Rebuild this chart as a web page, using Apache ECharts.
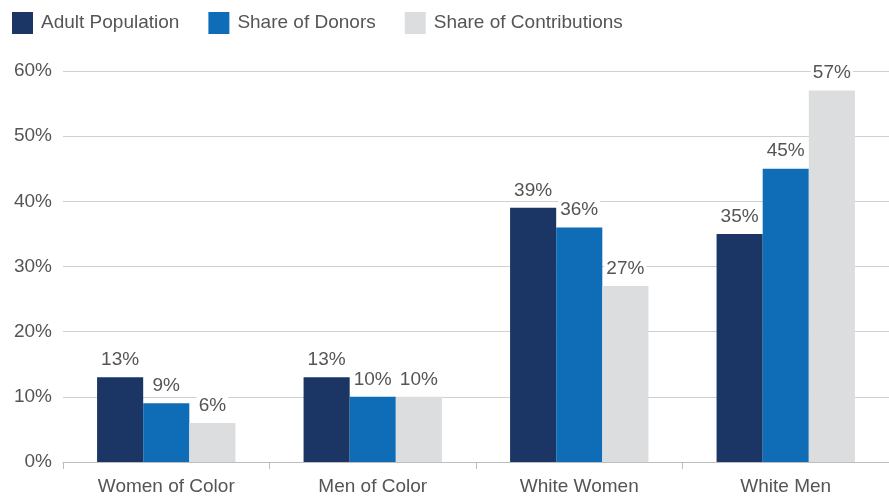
<!DOCTYPE html>
<html>
<head>
<meta charset="utf-8">
<script src="https://cdn.jsdelivr.net/npm/echarts@6/dist/echarts.min.js"></script>
<style>
  html, body { margin: 0; padding: 0; background: #fff; }
  #chart { width: 889px; height: 496px; }
</style>
</head>
<body>
<div id="chart"></div>
<script>
// Groups along the x axis
const categories = ['Women of Color', 'Men of Color', 'White Women', 'White Men'];

// Percent values per series
const adultPopulation = [13, 13, 39, 35];
const shareOfDonors = [9, 10, 36, 45];
const shareOfContributions = [6, 10, 27, 57];

const seriesNames = ['Adult Population', 'Share of Donors', 'Share of Contributions'];
const seriesColors = ['#1b3664', '#0f6db8', '#dcdddf'];
const seriesData = [adultPopulation, shareOfDonors, shareOfContributions];

const FONT = '"Liberation Sans", Arial, Helvetica, sans-serif';
const TEXT = '#555';
const SIZE = 19;

const chart = echarts.init(document.getElementById('chart'), null, { renderer: 'canvas' });

chart.setOption({
  animation: false,
  textStyle: { fontFamily: FONT },
  legend: {
    left: 12,
    top: 12,
    padding: 0,
    itemWidth: 21,
    itemHeight: 22,
    itemGap: 29,
    icon: 'rect',
    textStyle: { fontFamily: FONT, fontSize: SIZE, color: TEXT, padding: [0, 0, 0, 3] },
    data: seriesNames
  },
  grid: { left: 63, right: 0, top: 71, bottom: 34, containLabel: false },
  xAxis: {
    type: 'category',
    data: categories,
    axisLine: { lineStyle: { color: '#bdbdbd', width: 1 } },
    axisTick: { show: true, length: 7, lineStyle: { color: '#bdbdbd' } },
    axisLabel: { fontFamily: FONT, fontSize: SIZE, color: TEXT, margin: 15 }
  },
  yAxis: {
    type: 'value',
    min: 0,
    max: 60,
    interval: 10,
    axisLine: { show: false },
    axisTick: { show: false },
    axisLabel: { formatter: '{value}%', fontFamily: FONT, fontSize: SIZE, color: TEXT, margin: 11 },
    splitLine: { lineStyle: { color: '#d0d0d0', width: 1 } }
  },
  series: seriesNames.map((name, i) => ({
    name: name,
    type: 'bar',
    data: seriesData[i],
    barGap: '0%',
    barCategoryGap: '33%',
    itemStyle: { color: seriesColors[i] },
    label: {
      show: true,
      position: 'top',
      distance: 8,
      formatter: '{c}%',
      fontFamily: FONT,
      fontSize: SIZE,
      color: TEXT,
      backgroundColor: '#fff',
      padding: [1, 2, 0, 2]
    }
  }))
});
</script>
</body>
</html>
